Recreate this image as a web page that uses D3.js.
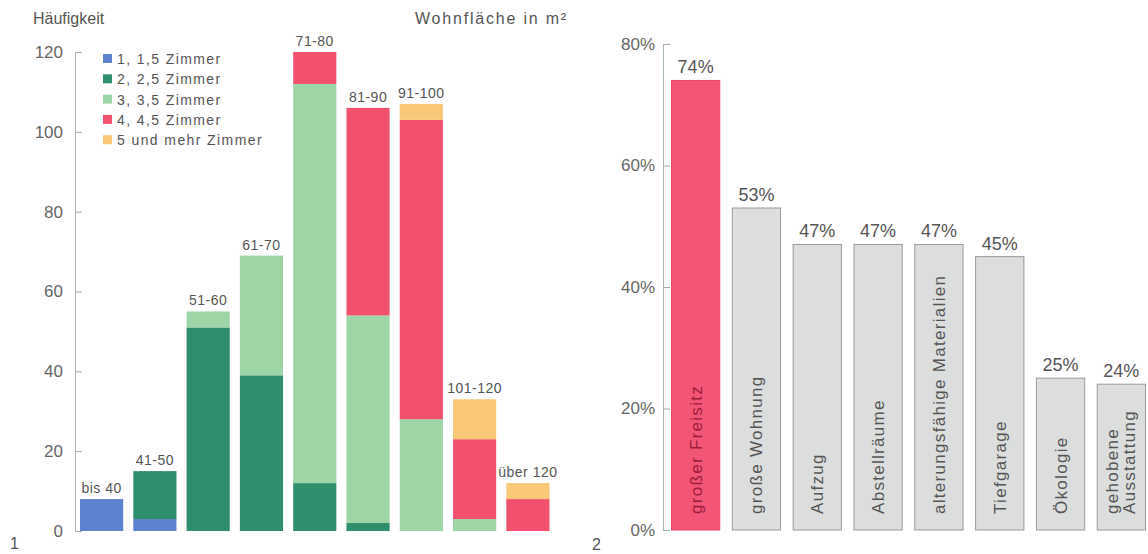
<!DOCTYPE html>
<html>
<head>
<meta charset="utf-8">
<script src="https://cdn.jsdelivr.net/npm/d3@7"></script>
<style>
  html, body { margin: 0; padding: 0; background: #fff; }
  svg { display: block; font-family: "Liberation Sans", Arial, sans-serif; }
  .tick text { fill: #666; }
</style>
</head>
<body>
<svg id="chart" width="1148" height="554"></svg>
<script>
// Figure 1: apartment size classes, stacked by number of rooms
const sizeClasses = ["bis 40", "41-50", "51-60", "61-70", "71-80", "81-90", "91-100", "101-120", "über 120"];
const roomGroups  = ["1, 1,5 Zimmer", "2, 2,5 Zimmer", "3, 3,5 Zimmer", "4, 4,5 Zimmer", "5 und mehr Zimmer"];
const rooms1   = [8, 3, 0, 0, 0, 0, 0, 0, 0];
const rooms2   = [0, 12, 51, 39, 12, 2, 0, 0, 0];
const rooms3   = [0, 0, 4, 30, 100, 52, 28, 3, 0];
const rooms4   = [0, 0, 0, 0, 8, 52, 75, 20, 8];
const rooms5   = [0, 0, 0, 0, 0, 0, 4, 10, 4];
const roomColors = ["#5d82d0", "#2f8f6c", "#9dd5a7", "#f2516d", "#f8c878"];
const countTicks = [0, 20, 40, 60, 80, 100, 120];

// Figure 2: desired features, share of respondents
const features = ["großer Freisitz", "große Wohnung", "Aufzug", "Abstellräume", "alterungsfähige Materialien", "Tiefgarage", "Ökologie", "gehobene Ausstattung"];
const featureShare = [74, 53, 47, 47, 47, 45, 25, 24];
const shareTicks = [0, 20, 40, 60, 80];

const svg = d3.select("#chart");

// ---------- left chart ----------
const left = svg.append("g");
const yL = d3.scaleLinear().domain([0, 120]).range([531, 52]);
const xL = d3.scaleBand().domain(sizeClasses).range([80, 549.5]).paddingInner(0.19).paddingOuter(0);

const table = sizeClasses.map((c, i) => ({
  cls: c,
  [roomGroups[0]]: rooms1[i],
  [roomGroups[1]]: rooms2[i],
  [roomGroups[2]]: rooms3[i],
  [roomGroups[3]]: rooms4[i],
  [roomGroups[4]]: rooms5[i]
}));
const stacked = d3.stack().keys(roomGroups)(table);
const colorL = d3.scaleOrdinal().domain(roomGroups).range(roomColors);

left.selectAll("g.layer").data(stacked).join("g")
  .attr("class", "layer")
  .attr("fill", d => colorL(d.key))
  .selectAll("rect").data(d => d).join("rect")
  .attr("x", d => xL(d.data.cls))
  .attr("width", xL.bandwidth())
  .attr("y", d => yL(d[1]))
  .attr("height", d => Math.max(0, yL(d[0]) - yL(d[1])));

// size class labels above each stack
const totals = table.map(r => d3.sum(roomGroups, k => r[k]));
left.selectAll("text.cls").data(sizeClasses).join("text")
  .attr("class", "cls")
  .attr("x", d => xL(d) + xL.bandwidth() / 2)
  .attr("y", (d, i) => yL(totals[i]) - 6)
  .attr("text-anchor", "middle")
  .attr("font-size", 14)
  .attr("letter-spacing", 0.5)
  .attr("fill", "#555")
  .text(d => d);

const axisL = left.append("g")
  .attr("transform", "translate(75,0)")
  .call(d3.axisLeft(yL).tickValues(countTicks).tickSizeInner(-7).tickSizeOuter(0).tickPadding(12));
axisL.select(".domain").attr("stroke", "#b8b8b8");
axisL.selectAll(".tick line").attr("stroke", "#aaa");
axisL.selectAll(".tick text").attr("font-size", 17).attr("fill", "#666");

left.append("text").attr("x", 33).attr("y", 24).attr("font-size", 16).attr("fill", "#555").text("Häufigkeit");
left.append("text").attr("x", 568).attr("y", 24).attr("font-size", 16).attr("fill", "#555")
  .attr("letter-spacing", 1.8).attr("text-anchor", "end").text("Wohnfläche in m²");
left.append("text").attr("x", 10).attr("y", 549).attr("font-size", 16).attr("fill", "#555").text("1");

// legend
const legend = left.append("g").attr("transform", "translate(103,59)");
const li = legend.selectAll("g").data(roomGroups).join("g")
  .attr("transform", (d, i) => `translate(0,${i * 20.3})`);
li.append("rect").attr("x", 0).attr("y", -5).attr("width", 9).attr("height", 9).attr("fill", d => colorL(d));
li.append("text").attr("x", 14).attr("y", 5).attr("font-size", 14).attr("fill", "#555")
  .attr("letter-spacing", 1.4).text(d => d);

// ---------- right chart ----------
const right = svg.append("g");
const yR = d3.scaleLinear().domain([0, 80]).range([530, 44]);
const xR = d3.scaleBand().domain(features).range([671, 1146]).paddingInner(0.19).paddingOuter(0);

right.selectAll("rect.feat").data(features).join("rect")
  .attr("class", "feat")
  .attr("x", d => xR(d) + 0.5)
  .attr("width", xR.bandwidth() - 1)
  .attr("y", (d, i) => yR(featureShare[i]))
  .attr("height", (d, i) => yR(0) - yR(featureShare[i]))
  .attr("fill", (d, i) => i === 0 ? "#f35577" : "#dcdddd")
  .attr("stroke", (d, i) => i === 0 ? "#e8486a" : "#9a9a9a")
  .attr("stroke-width", 1);

right.selectAll("text.val").data(features).join("text")
  .attr("class", "val")
  .attr("x", d => xR(d) + xR.bandwidth() / 2)
  .attr("y", (d, i) => yR(featureShare[i]) - 7)
  .attr("text-anchor", "middle")
  .attr("font-size", 18)
  .attr("fill", "#555")
  .text((d, i) => featureShare[i] + "%");

// rotated feature names inside the bars
const featLines = features.map(f => f === "gehobene Ausstattung" ? ["gehobene", "Ausstattung"] : [f]);
right.selectAll("text.feat").data(features).join("text")
  .attr("class", "feat")
  .attr("transform", (d, i) => {
    const n = featLines[i].length;
    const cx = xR(d) + xR.bandwidth() / 2 + 6 - (n - 1) * 9;
    return `translate(${cx},514) rotate(-90)`;
  })
  .attr("font-size", 17)
  .attr("letter-spacing", 1.3)
  .attr("fill", (d, i) => i === 0 ? "#9c1d3a" : "#555")
  .each(function(d, i) {
    const t = d3.select(this);
    featLines[i].forEach((line, k) => {
      t.append("tspan").attr("x", 0).attr("dy", k === 0 ? 0 : 17).text(line);
    });
  });

const axisR = right.append("g")
  .attr("transform", "translate(663,0)")
  .call(d3.axisLeft(yR).tickValues(shareTicks).tickSizeInner(-7).tickSizeOuter(0).tickPadding(8)
    .tickFormat(d => d + "%"));
axisR.select(".domain").attr("stroke", "#a9b8b4");
axisR.selectAll(".tick line").attr("stroke", "#aaa");
axisR.selectAll(".tick text").attr("font-size", 17).attr("fill", "#666");

right.append("text").attr("x", 592).attr("y", 550).attr("font-size", 16).attr("fill", "#555").text("2");
</script>
</body>
</html>
